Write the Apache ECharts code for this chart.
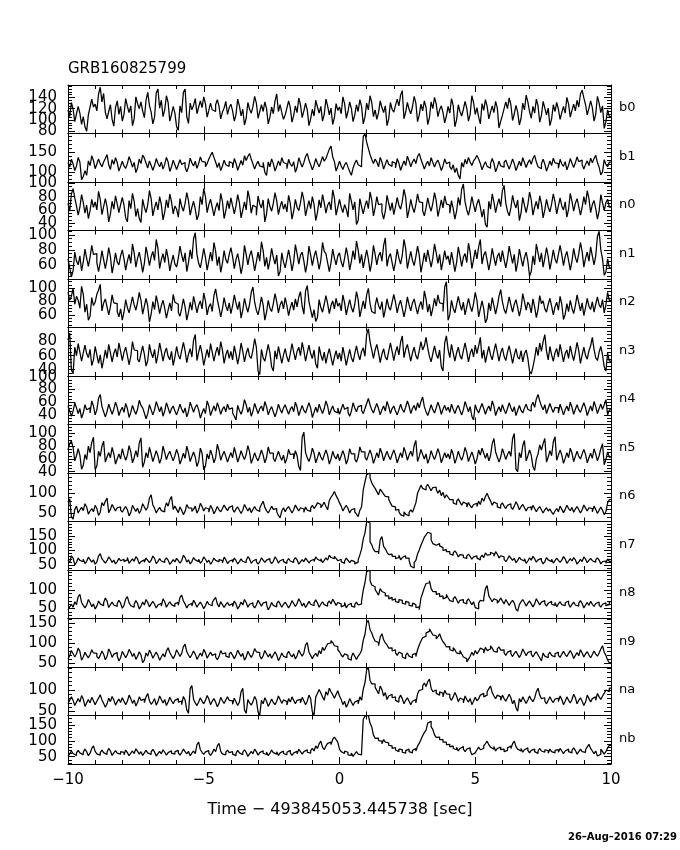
<!DOCTYPE html>
<html><head><meta charset="utf-8">
<script src="https://cdn.jsdelivr.net/npm/echarts@6/dist/echarts.min.js"></script>
<style>html,body{margin:0;padding:0;background:#fff}#c{width:680px;height:850px}</style>
</head><body><div id="c"></div>
<script>
const chartTitle = 'GRB160825799';
const xTitle = 'Time \u2212 493845053.445738 [sec]';
const dateStamp = '26\u2013Aug\u20132016 07:29';
const panelNames = ['b0','b1','n0','n1','n2','n3','n4','n5','n6','n7','n8','n9','na','nb'];
const tStart = -10, binWidth = 0.0625;
const xTickValues = [-10,-5,0,5,10];

const b0 = [118,106,131,119,97,111,124,112,92,106,88,80,109,123,137,123,128,116,146,158,132,147,114,102,115,127,101,89,122,134,110,124,
98,110,138,124,113,125,90,102,141,129,120,132,116,104,135,149,126,114,93,105,148,155,121,135,106,118,143,131,98,110,124,112,
88,82,125,113,149,155,106,94,130,118,126,138,111,123,134,122,141,129,105,117,130,118,115,127,136,124,102,114,121,133,110,122,
128,116,98,110,137,125,107,119,91,103,131,119,112,124,142,130,103,115,127,115,132,120,93,105,123,111,134,146,115,127,113,101,
109,121,134,122,96,108,125,113,139,127,104,116,130,118,90,102,119,107,135,123,112,124,98,110,137,125,109,121,92,104,129,117,
123,111,141,129,103,115,132,120,97,109,127,115,136,124,93,105,130,118,143,131,106,118,101,113,134,122,113,125,90,102,131,119,
114,126,137,125,144,152,102,114,131,119,111,123,142,130,97,109,128,116,134,122,92,104,132,120,140,128,106,118,125,113,95,107,
124,112,138,126,88,100,127,115,107,119,133,121,98,110,143,131,110,122,105,93,129,117,136,124,102,114,125,113,133,121,86,98,
108,120,132,120,139,127,99,111,126,114,91,103,130,118,144,132,115,103,124,112,137,125,96,108,133,121,109,121,90,102,127,115,
131,119,101,113,124,112,140,128,105,117,128,116,135,123,146,153,139,127,109,121,134,122,98,110,142,130,113,125,85,97,118,106];
const b1 = [124,112,132,120,103,115,137,125,80,88,103,91,128,116,141,129,108,120,133,121,113,125,134,144,118,106,131,119,136,124,102,114,
127,115,109,121,139,127,112,124,98,110,133,121,143,135,122,110,128,116,104,116,134,122,113,125,107,119,137,125,101,113,130,118,
106,118,131,119,124,112,100,112,135,123,115,127,109,121,138,126,125,113,121,133,142,150,137,125,111,123,103,115,130,118,114,126,
122,110,134,122,104,116,129,117,141,129,139,147,132,120,107,119,127,115,112,124,99,91,125,113,133,121,102,114,128,116,136,124,
120,108,132,120,114,126,99,111,136,124,112,124,139,147,130,118,105,117,134,122,113,125,139,127,134,146,158,166,138,126,102,114,
127,115,106,118,124,112,101,91,110,122,130,118,113,125,190,198,176,160,144,132,121,133,125,113,137,125,107,119,131,119,114,126,
122,110,134,122,104,116,128,116,140,128,113,125,133,121,139,147,132,120,107,119,127,115,136,124,112,124,130,118,103,115,133,121,
125,113,106,118,98,110,91,82,124,112,132,120,137,125,116,128,134,142,133,121,105,117,126,114,109,121,134,122,100,112,127,115,
112,124,130,118,107,119,133,121,103,115,127,115,136,124,111,123,131,119,134,142,125,113,108,120,132,120,102,114,128,116,135,123,
121,109,132,120,114,126,105,117,134,122,111,123,138,126,130,118,107,119,128,116,135,123,134,142,124,112,92,100,131,119,113,125];
const n0 = [70,58,84,92,78,66,52,64,83,71,55,67,47,59,76,64,72,60,88,76,53,65,77,65,42,54,73,61,81,69,56,68,
79,67,48,42,74,62,85,73,50,62,47,41,76,64,56,68,89,77,51,63,72,60,80,68,45,57,75,63,84,72,54,66,
61,49,77,65,58,70,86,74,52,64,73,61,45,53,80,68,92,80,56,68,76,64,51,63,71,59,85,73,47,59,74,62,
78,66,54,66,83,71,48,60,72,60,89,77,55,67,64,52,81,69,63,75,42,54,77,65,58,70,86,74,53,65,73,61,
69,57,82,70,46,58,76,64,59,71,87,75,51,63,74,62,80,68,44,56,75,63,83,71,55,67,72,60,90,78,52,64,
76,64,56,68,61,49,85,73,60,72,38,44,77,65,54,66,74,62,87,75,51,63,80,68,69,57,46,58,82,70,59,71,
53,65,79,67,61,73,91,79,48,60,76,64,56,68,84,72,71,59,51,63,78,66,58,70,86,74,50,62,75,63,81,69,
67,55,74,62,46,58,79,67,91,99,72,60,52,64,80,68,57,69,76,64,49,61,38,34,73,61,84,72,56,68,77,65,
89,97,70,58,51,63,82,70,63,75,44,56,79,67,56,68,87,75,52,64,73,61,81,69,48,60,76,64,57,69,84,72,
54,66,78,66,60,72,49,61,85,73,58,70,77,65,52,64,80,68,89,77,56,68,74,62,46,58,83,71,59,71,76,64];
const n1 = [68,56,44,52,77,65,60,72,52,64,81,69,58,70,86,74,75,63,51,63,79,67,55,67,83,71,49,61,76,64,60,72,
80,68,53,65,74,62,88,76,57,69,77,65,50,62,84,72,59,71,78,66,94,82,55,67,75,63,81,69,52,64,73,61,
57,69,85,73,64,76,51,63,80,68,95,103,74,62,56,68,82,70,53,65,77,65,90,78,59,71,50,62,79,67,62,74,
83,71,55,67,75,63,48,60,86,74,60,72,79,67,52,64,77,65,91,79,58,70,54,66,82,70,61,73,45,51,76,64,
56,68,80,68,52,64,87,75,61,73,77,65,50,62,85,73,59,71,79,67,54,66,90,78,75,63,51,63,81,69,60,72,
76,64,57,69,83,71,53,65,79,67,92,80,62,74,56,68,80,68,51,63,86,74,60,72,77,65,86,96,58,70,75,63,
52,64,81,69,61,73,94,82,55,67,78,66,59,71,85,73,50,62,76,64,80,68,57,69,88,76,62,74,53,65,79,67,
72,60,77,65,51,63,84,72,58,70,75,63,89,77,55,67,80,68,84,94,61,73,78,66,53,65,82,70,59,71,76,64,
79,67,56,68,85,73,62,74,51,63,81,69,58,70,77,65,45,51,72,60,88,76,64,76,57,69,83,71,54,66,80,68,
62,74,86,74,59,71,78,66,53,65,82,70,63,75,90,78,57,69,77,65,84,72,60,72,98,105,80,68,46,50,68,56];
const n2 = [94,82,88,100,76,88,82,70,103,91,64,76,52,58,86,74,79,91,97,106,66,78,84,72,60,72,90,78,77,65,57,69,
52,64,83,71,63,75,87,75,67,79,94,82,61,73,85,73,49,61,80,68,89,77,62,74,82,70,55,67,78,66,91,79,
76,64,58,70,84,72,52,64,79,67,88,76,63,75,81,69,93,81,60,72,77,65,89,99,83,71,57,69,86,74,66,78,
62,74,90,78,68,80,55,67,85,73,64,76,94,102,79,67,60,72,87,75,52,64,82,70,65,77,92,80,63,75,81,69,
86,74,59,71,79,67,84,72,87,95,73,61,96,104,80,68,56,68,50,56,83,71,64,76,89,77,62,74,81,69,85,73,
78,66,90,78,60,72,83,71,64,76,95,83,57,69,81,69,90,100,77,65,62,74,86,74,68,80,56,68,84,72,67,79,
91,79,63,75,82,70,57,69,87,75,66,78,84,72,61,73,80,68,96,84,64,76,58,70,85,73,90,78,77,65,102,110,
52,60,82,70,63,75,88,76,67,79,60,72,85,73,65,77,94,82,57,69,81,69,48,54,78,66,86,74,61,73,88,98,
80,68,62,74,87,75,64,76,83,71,58,70,92,80,67,79,75,63,84,72,56,68,89,77,81,69,64,76,85,73,60,72,
79,67,88,76,53,61,77,65,82,70,62,74,90,78,66,78,59,71,85,73,68,80,64,76,87,75,71,83,63,75,94,82];
const n3 = [82,92,40,34,72,60,77,65,52,64,75,63,57,69,46,54,73,61,49,61,42,54,68,56,76,64,51,63,70,58,78,66,
53,65,72,60,47,59,80,68,67,55,51,63,74,62,45,53,76,64,57,69,49,61,78,66,52,64,71,59,54,66,46,58,
73,61,55,67,79,67,50,62,70,58,82,90,53,65,75,63,46,58,69,57,77,65,52,64,72,60,80,68,49,61,68,56,
66,54,74,62,48,60,78,66,51,63,71,59,56,68,84,72,38,33,69,57,52,64,76,64,44,38,67,55,73,61,49,61,
70,58,51,63,77,65,54,66,72,60,79,67,52,64,75,63,56,68,48,42,73,61,53,65,49,61,70,58,46,58,67,55,
64,52,72,60,46,58,69,57,51,63,74,62,54,66,71,59,90,98,80,68,56,68,76,64,50,62,70,58,54,66,78,66,
53,65,73,61,79,88,57,69,76,64,52,64,72,60,55,67,80,68,74,86,71,59,51,63,74,62,56,68,44,38,78,88,
69,57,76,64,52,64,72,60,55,67,78,66,51,63,70,58,75,63,74,86,56,68,50,62,73,61,54,66,77,65,52,64,
71,59,53,65,74,62,49,61,70,58,55,67,51,63,68,56,38,34,44,56,72,60,78,66,80,90,66,54,73,61,52,64,
70,58,76,64,51,63,68,56,74,62,53,65,79,67,49,61,72,60,55,67,74,86,69,57,53,65,73,61,44,38,64,52];
const n4 = [54,46,38,46,59,51,42,50,35,43,56,48,51,43,62,54,40,48,66,72,53,45,37,45,57,49,41,49,60,52,39,47,
52,44,58,50,36,44,55,47,41,49,63,55,51,43,34,42,56,48,40,48,61,53,45,53,38,46,59,51,42,50,54,46,
40,48,57,49,43,51,37,45,60,52,44,52,56,48,35,43,50,42,62,54,39,47,54,46,59,51,41,49,53,45,57,49,
51,43,38,32,55,47,41,49,64,56,44,52,38,46,58,50,42,50,54,46,61,53,40,48,53,45,37,45,57,49,43,51,
56,48,41,49,53,45,60,52,39,47,55,47,43,51,59,51,36,44,52,44,57,49,42,50,62,54,40,48,54,46,43,51,
41,49,57,49,52,44,38,46,59,51,45,53,55,47,42,50,58,66,56,48,43,51,58,50,40,48,54,46,61,53,42,50,
54,46,40,48,57,49,44,52,62,54,42,50,55,47,59,51,61,68,53,45,39,47,56,48,43,51,60,52,41,49,55,47,
52,44,57,49,42,50,55,47,40,48,61,53,45,53,38,32,56,48,43,51,58,50,41,49,54,46,62,54,39,47,53,45,
56,48,42,50,59,51,45,53,39,47,55,47,43,51,57,49,46,54,60,52,65,72,62,54,48,56,42,50,58,50,44,52,
51,43,57,49,40,48,54,46,60,52,41,49,56,48,44,52,59,51,39,47,54,46,61,53,42,50,57,49,56,64,40,48];
const n5 = [74,84,88,78,57,65,76,66,44,50,67,59,80,70,86,94,43,49,72,64,80,88,55,63,70,62,78,68,52,60,68,60,
76,66,58,66,81,71,54,62,73,63,85,93,47,55,70,62,78,68,56,64,73,65,53,61,80,70,59,67,72,64,57,65,
75,67,52,60,69,61,80,70,56,64,71,63,48,56,77,69,43,49,68,60,74,66,54,62,83,73,58,66,72,64,55,63,
70,62,78,68,55,63,73,65,59,67,81,71,53,61,70,62,57,65,74,66,54,62,79,69,69,61,56,64,72,64,58,66,
53,61,75,67,68,60,73,65,48,42,94,102,70,62,56,64,77,69,54,62,71,63,58,66,74,66,52,60,72,64,60,68,
57,65,73,65,52,60,76,68,68,60,55,63,79,71,71,63,58,66,74,66,53,61,70,62,77,69,57,65,72,64,59,67,
74,66,54,62,70,62,78,70,58,66,72,64,81,89,56,64,75,67,60,68,53,61,73,65,59,67,76,68,54,62,70,62,
68,60,75,67,53,61,72,64,58,66,78,70,56,64,71,63,52,60,74,66,77,69,61,69,57,65,84,92,71,63,55,63,
76,68,59,67,72,64,92,100,44,40,70,62,81,89,57,65,74,66,48,42,60,68,82,74,84,92,55,63,73,65,87,95,
58,66,74,66,53,61,70,62,77,69,56,64,72,64,60,68,75,67,54,62,69,61,76,68,57,65,76,84,51,59,71,63];
const n6 = [78,86,42,36,60,68,51,59,65,57,74,66,48,56,62,54,70,62,45,53,77,69,80,88,52,60,72,64,56,64,66,58,
53,61,67,59,44,52,70,62,55,63,50,58,74,66,58,66,88,96,71,63,51,59,65,57,54,62,76,68,84,92,60,68,
60,52,66,58,47,55,72,64,63,55,60,68,51,59,75,67,56,64,61,53,70,62,49,57,67,59,54,62,71,63,57,65,
69,61,53,61,66,58,50,58,72,64,56,64,52,60,67,59,55,63,72,80,65,57,51,59,68,60,62,54,45,39,56,64,
54,62,67,59,51,59,71,63,56,64,61,53,66,58,55,63,70,62,68,76,72,64,70,78,67,59,82,90,96,104,94,86,
76,68,56,64,70,62,51,59,62,54,48,42,58,66,108,128,146,150,138,126,118,112,104,96,110,104,98,92,91,85,76,68,
66,58,60,54,47,43,54,48,44,52,59,53,64,76,100,110,120,112,108,116,122,114,106,114,115,109,100,108,94,102,88,96,
90,84,84,76,72,80,86,78,70,78,74,66,77,69,64,72,75,67,80,72,88,80,92,100,89,81,70,78,74,66,63,71,
76,68,62,70,74,66,60,68,79,71,59,67,72,64,56,64,66,58,70,62,54,62,67,59,51,59,64,56,61,53,48,56,
62,54,68,60,52,60,70,62,57,65,53,61,67,59,51,59,71,63,56,64,62,54,68,60,50,58,66,58,47,54,76,84];
const n7 = [66,58,82,74,51,59,74,66,62,70,55,63,77,69,60,68,53,61,81,89,72,64,57,65,78,70,59,67,54,62,73,65,
70,62,68,76,56,64,71,63,79,71,54,62,68,60,74,66,58,66,81,73,55,63,72,64,59,67,75,67,52,60,69,61,
73,65,57,65,84,76,60,68,54,62,76,68,62,70,56,64,78,70,59,67,53,61,74,66,61,69,65,57,77,69,55,63,
68,60,74,66,54,62,71,63,58,66,79,71,56,64,70,62,53,61,75,67,59,67,72,64,55,63,78,70,57,65,70,62,
56,64,72,64,59,67,76,68,53,61,69,61,74,66,57,65,70,62,78,70,64,72,58,66,75,67,84,76,72,80,73,65,
70,62,56,64,74,66,58,66,62,54,60,68,85,105,140,160,200,195,130,120,104,96,96,88,138,148,114,106,94,86,88,80,
80,72,76,84,68,76,82,74,74,66,46,40,58,66,88,102,118,132,146,154,163,158,136,124,118,112,124,116,110,100,104,96,
96,88,84,92,99,91,78,86,84,76,73,81,88,80,70,78,82,74,68,76,84,76,92,84,86,94,88,80,96,88,74,82,
78,70,62,70,82,74,66,74,58,66,77,69,64,72,56,64,75,67,80,72,60,68,73,65,54,62,76,68,62,70,57,65,
74,66,59,67,79,71,56,64,72,64,76,68,53,61,70,62,78,70,58,66,73,65,60,68,75,67,54,62,64,56,71,63];
const n8 = [46,54,61,53,68,60,82,88,66,58,51,59,74,66,54,62,48,56,70,62,57,65,78,70,52,60,67,59,55,63,72,64,
50,58,76,82,65,57,53,61,71,63,48,56,67,59,74,66,54,62,69,61,51,59,64,56,76,68,53,61,68,60,55,63,
66,58,80,86,70,62,51,59,64,56,72,64,53,61,67,59,49,57,69,61,57,65,74,80,62,54,68,60,52,60,66,58,
63,55,70,62,48,56,67,59,74,66,53,61,65,57,51,59,72,64,56,64,68,60,46,54,66,58,54,62,70,62,53,61,
67,59,51,59,71,63,55,63,76,68,56,64,52,60,69,61,57,65,73,65,53,61,68,60,56,64,70,62,75,67,58,66,
62,54,58,66,51,59,64,56,53,61,67,59,62,70,100,120,150,155,126,114,109,101,94,86,104,96,92,84,84,76,80,72,
76,68,66,74,72,64,61,69,66,58,56,64,60,52,54,46,78,92,106,118,120,126,104,96,96,88,90,82,84,76,80,88,
79,71,68,76,82,74,64,72,74,66,62,70,76,68,60,68,52,48,64,72,70,78,104,112,84,76,68,76,72,64,70,78,
70,62,74,66,58,66,72,64,48,42,60,68,74,66,56,64,70,62,54,62,76,68,59,67,71,63,56,64,69,61,58,66,
54,62,68,60,57,65,70,62,53,61,67,59,56,64,71,63,51,59,66,58,69,61,55,63,67,59,53,61,65,57,60,68];
const n9 = [61,69,82,74,66,74,88,80,58,66,78,70,64,72,84,76,75,67,62,70,81,73,59,67,86,78,65,73,77,69,56,64,
80,72,64,72,85,77,67,75,60,68,79,71,52,58,76,68,83,75,63,71,78,70,58,66,74,66,81,89,77,69,62,70,
84,76,67,75,92,98,79,71,64,72,81,73,60,68,76,68,85,77,63,71,78,70,74,66,59,67,82,74,76,68,65,73,
78,70,62,70,83,75,67,75,58,66,80,72,65,73,87,79,77,69,61,69,82,74,66,74,63,71,79,71,57,65,76,68,
64,72,80,72,66,74,61,69,83,75,68,76,96,102,78,70,62,70,75,67,82,74,90,82,91,99,101,107,102,94,92,84,
79,71,66,74,70,62,58,66,76,68,60,68,74,82,108,122,152,157,134,126,114,106,102,94,116,124,109,101,96,88,89,81,
84,76,70,78,74,66,62,70,76,68,64,72,75,67,84,96,106,114,118,126,130,136,129,121,119,111,116,124,112,104,99,91,
92,84,81,89,84,76,74,82,74,66,62,54,60,68,78,70,82,74,80,88,84,76,90,82,86,94,88,80,78,86,91,83,
84,76,70,78,82,74,67,75,80,72,65,73,86,78,69,77,81,73,66,74,79,71,64,56,76,68,64,72,78,70,66,74,
78,70,65,73,80,72,67,75,82,74,62,70,77,69,84,76,66,74,79,71,64,72,81,73,68,76,86,94,78,70,58,52];
const na = [68,76,84,76,64,72,80,72,87,79,62,70,78,70,83,75,66,74,81,89,77,69,60,68,81,73,85,77,65,73,79,71,
82,74,66,74,88,80,69,77,63,71,84,76,79,71,84,92,75,67,72,80,65,73,86,78,70,78,64,72,83,75,68,76,
80,72,74,66,85,77,54,46,103,110,78,70,64,72,82,74,68,76,87,79,66,74,80,72,61,69,83,75,69,77,84,76,
75,67,81,73,64,72,96,104,54,46,78,70,65,73,85,77,49,42,76,68,82,74,62,70,79,71,66,74,86,78,69,77,
73,65,80,72,84,76,68,76,78,70,83,75,66,74,88,80,49,42,84,92,101,93,84,76,96,88,104,96,89,81,90,98,
86,78,66,74,60,68,80,72,64,72,76,68,84,76,102,116,146,152,122,114,114,106,99,91,109,101,86,94,78,86,90,82,
84,76,72,80,88,80,68,76,82,74,66,74,78,70,91,99,101,109,116,108,119,125,104,96,100,92,88,96,92,84,99,91,
90,82,76,84,94,86,73,81,78,70,86,78,72,80,66,74,83,75,80,88,92,84,88,96,103,109,94,86,80,88,84,76,
88,80,74,82,90,82,68,76,59,51,80,72,84,76,69,77,86,78,73,81,96,104,88,80,82,74,68,76,84,76,71,79,
81,73,86,78,66,74,84,76,70,78,90,82,68,76,82,74,64,72,88,80,72,80,84,76,92,84,78,86,92,100,96,104];
const nb = [51,59,68,60,54,62,70,62,56,64,74,66,53,61,76,84,67,59,55,63,71,63,57,65,76,68,54,62,69,61,58,66,
64,56,71,63,53,61,68,60,75,67,58,66,54,62,70,62,57,65,73,65,52,60,67,59,72,64,55,63,69,61,58,66,
70,62,55,63,74,66,59,67,53,61,68,60,88,96,72,64,57,65,69,61,54,62,74,66,84,92,67,59,56,64,71,63,
66,58,53,61,70,62,56,64,72,64,51,59,67,59,74,66,55,63,69,61,57,65,53,61,71,63,58,66,54,62,68,60,
56,64,70,62,54,62,67,59,74,66,58,66,72,64,61,69,76,68,84,76,91,99,80,72,84,92,96,88,105,112,104,96,
74,66,60,68,64,56,54,62,51,59,66,58,56,64,168,178,180,176,156,144,118,108,109,101,99,91,104,96,94,86,84,76,
79,71,66,74,72,64,61,69,74,66,62,70,76,68,84,92,104,116,126,134,156,162,144,136,119,111,112,104,104,96,96,88,
89,81,84,76,72,80,68,76,82,74,66,74,78,70,56,62,64,72,80,72,76,84,91,99,88,80,74,82,68,76,80,72,
74,66,70,78,84,76,91,99,82,74,68,76,64,72,78,70,62,70,74,66,60,68,76,68,64,72,69,61,74,66,62,70,
72,64,76,68,60,68,74,66,62,70,78,70,58,66,74,66,64,72,81,89,76,68,60,68,52,58,74,66,58,66,78,86];

const panelCounts = [b0,b1,n0,n1,n2,n3,n4,n5,n6,n7,n8,n9,na,nb];
const yMin = [76,74,29,41,41,31,25,38,30,33,22,41,41,27];
const yMax = [162,198,102,106,114,100,101,114,150,200,155,162,153,180];
const yLabels = [[80,100,120,140],[100,150],[40,60,80,100],[60,80,100],[60,80,100],[40,60,80],
  [40,60,80,100],[40,60,80,100],[50,100],[50,100,150],[50,100],[50,100,150],[50,100],[50,100,150]];
const yMinorStep = [5,10,5,5,5,5,5,5,10,10,10,10,10,10];

// layout
const L = 68, R = 611, TOP = 85, PH = 48.5;
const FONT = 'DejaVu Sans';
const chart = echarts.init(document.getElementById('c'), null, {renderer: 'canvas'});

const grids = [], xAxes = [], yAxes = [], series = [], graphics = [];
panelCounts.forEach((vals, i) => {
  const top = TOP + PH * i;
  grids.push({left: L, top: top, width: R - L, height: PH, containLabel: false, outerBoundsMode: 'none'});
  const isLast = i === panelCounts.length - 1;
  const xBase = {
    type: 'value', gridIndex: i, min: -10, max: 10, interval: 5,
    axisLine: {show: true, onZero: false, lineStyle: {color: '#000', width: 1}},
    axisTick: {show: true, inside: true, length: 7, lineStyle: {color: '#000'}},
    minorTick: {show: true, splitNumber: 5, length: 4, lineStyle: {color: '#000'}},
    splitLine: {show: false}, minorSplitLine: {show: false}
  };
  const xIndex = xAxes.length;
  xAxes.push(Object.assign({}, xBase, {
    position: 'bottom',
    axisLabel: {show: isLast, color: '#000', fontFamily: FONT, fontSize: 15, margin: 9,
      hideOverlap: false, showMinLabel: true, showMaxLabel: true,
      formatter: v => (v < 0 ? '\u2212' + Math.abs(v) : String(v))}
  }));
  xAxes.push(Object.assign({}, xBase, {position: 'top', axisLabel: {show: false}}));

  const minors = [];
  const st = yMinorStep[i];
  for (let v = Math.ceil(yMin[i] / st) * st; v <= yMax[i]; v += st) minors.push(v);
  const yBase = {type: 'value', gridIndex: i, min: yMin[i], max: yMax[i],
    splitLine: {show: false}, minorTick: {show: false}};
  const yIndex = yAxes.length;
  ['left', 'right'].forEach(pos => {
    yAxes.push(Object.assign({}, yBase, {
      position: pos,
      axisLine: {show: true, onZero: false, lineStyle: {color: '#000', width: 1}},
      axisTick: {show: true, inside: true, length: 7, customValues: yLabels[i], lineStyle: {color: '#000'}},
      axisLabel: {show: false}
    }));
    yAxes.push(Object.assign({}, yBase, {
      position: pos,
      axisLine: {show: false, onZero: false},
      axisTick: {show: true, inside: true, length: 4, customValues: minors, lineStyle: {color: '#000'}},
      axisLabel: {show: false}
    }));
  });
  // one axis per tick label so overlapping labels (as in the reference) are all kept
  yLabels[i].forEach(v => {
    yAxes.push(Object.assign({}, yBase, {
      position: 'left',
      axisLine: {show: false, onZero: false},
      axisTick: {show: false},
      axisLabel: {show: true, customValues: [v], color: '#000', fontFamily: FONT, fontSize: 15,
        margin: 11, hideOverlap: false, showMinLabel: true, showMaxLabel: true}
    }));
  });

  const data = vals.map((v, k) => [tStart + binWidth * k, v]);
  data.push([tStart + binWidth * vals.length, vals[vals.length - 1]]);
  series.push({
    type: 'line', xAxisIndex: xIndex, yAxisIndex: yIndex, data: data, step: 'end',
    showSymbol: false, symbol: 'none', clip: true, animation: false,
    lineStyle: {color: '#000', width: 1.25}
  });

  graphics.push({type: 'text', left: R + 8, top: top + PH / 2 - 8,
    style: {text: panelNames[i], fill: '#000', font: '13px "DejaVu Sans"'}});
});

graphics.push({type: 'text', left: L, top: 62, style: {text: chartTitle, fill: '#000', font: '15px "DejaVu Sans"'}});
graphics.push({type: 'text', left: 'center', top: 802, style: {text: xTitle, fill: '#000', font: '16px "DejaVu Sans"'}});
graphics.push({type: 'text', right: 3, top: 832, style: {text: dateStamp, fill: '#000', font: 'bold 10px "DejaVu Sans"'}});

chart.setOption({
  animation: false,
  backgroundColor: '#fff',
  grid: grids, xAxis: xAxes, yAxis: yAxes, series: series, graphic: graphics
});
</script></body></html>
